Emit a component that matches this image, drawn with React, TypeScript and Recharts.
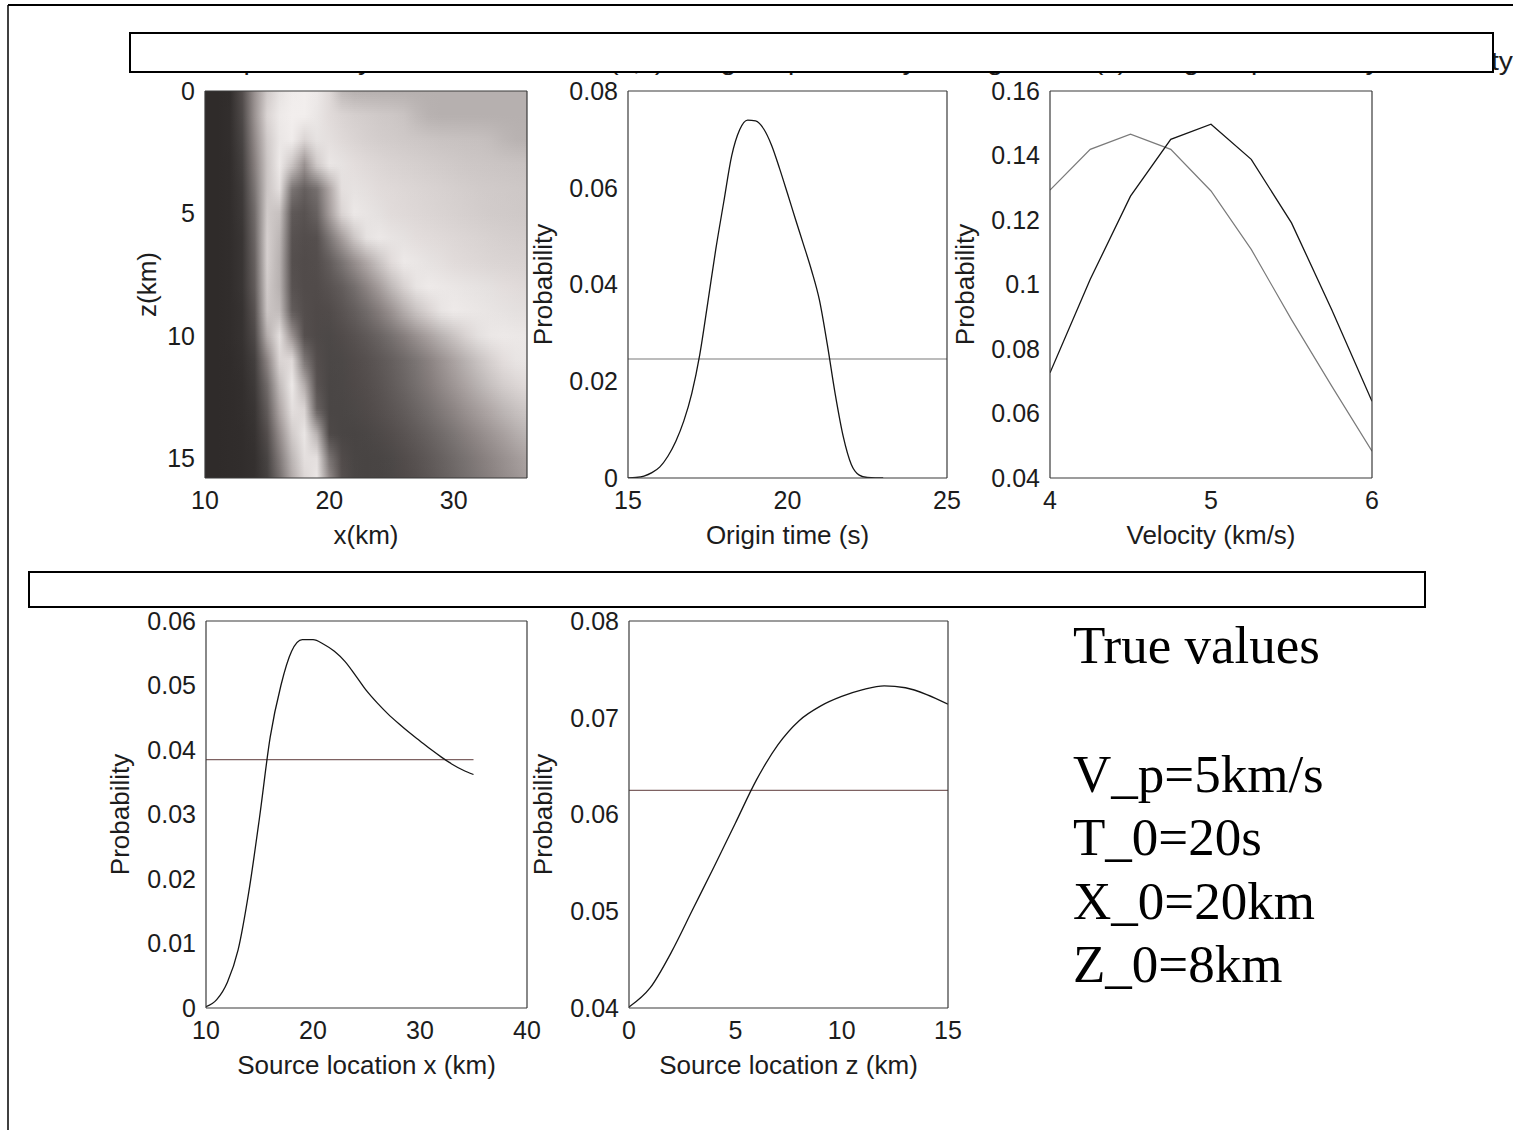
import React from 'react';
import { LineChart, Line, XAxis, YAxis, ReferenceArea } from 'recharts';

// ---------------- data ----------------
const originTime = [15, 15.25, 15.5, 15.75, 16, 16.25, 16.5, 16.75, 17, 17.25, 17.5, 17.75, 18, 18.25, 18.5, 18.75, 19, 19.25, 19.5, 19.75, 20, 20.25, 20.5, 20.75, 21, 21.25, 21.5, 21.75, 22, 22.25, 22.5, 22.75, 23];
const originProb = [0, 0.0001, 0.0004, 0.0011, 0.0023, 0.0045, 0.0076, 0.0118, 0.0175, 0.0255, 0.0362, 0.0472, 0.057, 0.0666, 0.072, 0.074, 0.0738, 0.0722, 0.0688, 0.064, 0.0588, 0.0535, 0.0483, 0.043, 0.0368, 0.0275, 0.0172, 0.0085, 0.0028, 0.0006, 0.0001, 0, 0];
const originPriorX = [15, 25];
const originPrior = 0.0246;

const velocity = [4, 4.25, 4.5, 4.75, 5, 5.25, 5.5, 5.75, 6];
const velPostDark = [0.0726, 0.1016, 0.1274, 0.145, 0.1497, 0.1388, 0.1191, 0.0922, 0.0638];
const velPostGray = [0.1293, 0.1419, 0.1466, 0.1419, 0.129, 0.1109, 0.0891, 0.0685, 0.0483];

const sourceX = [10, 11, 12, 13, 14, 15, 16, 17, 18, 19, 20, 21, 22, 23, 24, 25, 26, 27, 28, 29, 30, 31, 32, 33, 34, 35];
const sourceXProb = [0.0002, 0.0013, 0.004, 0.009, 0.018, 0.0295, 0.042, 0.05, 0.0553, 0.0571, 0.0571, 0.0564, 0.0553, 0.0537, 0.0515, 0.0492, 0.0473, 0.0456, 0.0441, 0.0427, 0.0414, 0.0401, 0.0389, 0.0378, 0.0369, 0.0362];
const sourceXPriorX = [10, 35];
const sourceXPrior = 0.0385;

const sourceZ = [0, 1, 2, 3, 4, 5, 6, 7, 8, 9, 10, 11, 12, 13, 14, 15];
const sourceZProb = [0.0401, 0.0421, 0.0458, 0.0502, 0.0546, 0.0591, 0.0636, 0.0672, 0.0697, 0.0712, 0.0722, 0.0729, 0.0733, 0.0731, 0.0724, 0.0714];
const sourceZPriorX = [0, 15];
const sourceZPrior = 0.0625;

// joint (x,z) map: grey level per grid node, columns = heatX, rows = heatZ
const heatX = [10, 11, 12, 13, 14, 15, 16, 17, 18, 19, 20, 21, 22, 23, 24, 25, 26, 27, 28, 29, 30, 31, 32, 33, 34, 35, 36];
const heatZ = [0, 1, 2, 3, 4, 5, 6, 7, 8, 9, 10, 11, 12, 13, 14, 15, 16];
const heatRows = [
  [45, 45, 47, 80, 150, 205, 228, 238, 240, 235, 220, 188, 180, 179, 179, 179, 179, 179, 179, 179, 179, 179, 179, 179, 179, 179, 179],
  [45, 45, 48, 75, 150, 215, 235, 240, 240, 232, 222, 215, 210, 207, 204, 202, 198, 188, 181, 179, 179, 179, 179, 179, 179, 179, 179],
  [45, 45, 48, 70, 140, 205, 232, 238, 215, 228, 225, 220, 215, 211, 208, 206, 204, 202, 200, 198, 197, 196, 195, 192, 186, 182, 181],
  [45, 45, 47, 65, 130, 200, 235, 200, 150, 205, 232, 228, 224, 220, 217, 214, 212, 210, 208, 206, 204, 202, 201, 200, 199, 198, 197],
  [45, 45, 47, 60, 120, 200, 225, 120, 98, 115, 170, 225, 228, 225, 222, 220, 218, 216, 214, 212, 210, 208, 206, 205, 204, 203, 202],
  [45, 45, 47, 58, 110, 205, 195, 92, 85, 100, 160, 215, 234, 230, 226, 222, 220, 218, 216, 214, 212, 210, 208, 206, 205, 204, 203],
  [45, 45, 47, 55, 105, 210, 185, 85, 80, 82, 120, 160, 200, 228, 234, 230, 227, 224, 222, 220, 218, 216, 214, 212, 210, 209, 208],
  [45, 45, 47, 55, 100, 210, 180, 82, 78, 80, 95, 118, 145, 172, 198, 222, 235, 232, 228, 225, 222, 220, 218, 216, 215, 214, 213],
  [45, 45, 47, 55, 95, 205, 180, 85, 78, 78, 85, 95, 112, 135, 160, 188, 212, 230, 236, 234, 232, 230, 228, 226, 224, 222, 220],
  [45, 45, 47, 52, 85, 200, 190, 95, 80, 76, 78, 86, 96, 110, 128, 150, 175, 198, 215, 230, 236, 234, 232, 230, 228, 226, 225],
  [45, 45, 47, 52, 75, 175, 225, 150, 82, 75, 74, 78, 84, 92, 102, 115, 130, 148, 165, 182, 198, 214, 226, 233, 235, 234, 233],
  [45, 45, 46, 50, 65, 135, 215, 220, 120, 80, 73, 74, 78, 83, 90, 98, 108, 120, 134, 150, 166, 182, 198, 212, 224, 230, 232],
  [45, 45, 46, 48, 60, 110, 190, 235, 175, 85, 72, 73, 76, 80, 86, 94, 103, 114, 126, 140, 154, 168, 182, 196, 208, 216, 222],
  [45, 45, 46, 48, 55, 95, 170, 225, 215, 100, 72, 72, 74, 77, 82, 88, 95, 104, 114, 125, 137, 150, 162, 174, 186, 196, 204],
  [45, 45, 46, 47, 52, 80, 145, 205, 232, 180, 75, 71, 70, 72, 75, 80, 86, 93, 101, 110, 120, 131, 142, 153, 164, 175, 185],
  [45, 45, 46, 47, 50, 70, 125, 185, 225, 225, 118, 78, 71, 70, 71, 74, 79, 85, 92, 100, 109, 118, 128, 138, 148, 158, 168],
  [45, 45, 46, 47, 50, 65, 110, 170, 215, 235, 148, 84, 72, 70, 70, 72, 76, 81, 88, 96, 104, 113, 122, 131, 141, 150, 160],
];

const titleText = 'Joint probability of source location (x,z)     Marginal probability of origin time (s)     Marginal probability of velocity';
const trueHeading = 'True values';
const trueValues = ['V_p=5km/s', 'T_0=20s', 'X_0=20km', 'Z_0=8km'];

// ---------------- styling / layout ----------------
const SANS = '"Liberation Sans", Arial, Helvetica, sans-serif';
const SERIF = '"Liberation Serif", "Times New Roman", Times, serif';
const BOX = '#3a3a3a';
const TXT = '#1c1c1c';
const TICK_FONT = 25;
const LABEL_FONT = 26;
const L = 100, T = 20, R = 40, B = 80;
const SUB_STRIPS = 12;

type PanelCfg = {
  left: number; top: number; w: number; h: number;
  xDomain: [number, number]; xTicks: number[];
  yDomain: [number, number]; yTicks: number[];
  reversed?: boolean; xLabel: string; yLabel: string; yLabelGap: number;
};

const pts = (xs: number[], ys: number[]) => xs.map((x, i) => ({ x, y: ys[i] }));
const flat = (xs: number[], v: number) => xs.map((x) => ({ x, y: v }));

// warm grey colour scale
function grey(g: number) {
  const c = (v: number) => Math.max(0, Math.min(255, Math.round(v)));
  const t = Math.max(0, 1 - Math.abs(g - 150) / 150);
  return `rgb(${c(g + 1 + 3 * t)},${c(g - 1 - 3 * t)},${c(g - 2 - 3 * t)})`;
}

function frameAxes(c: PanelCfg) {
  const tickStyle = { fontSize: TICK_FONT, fill: TXT, fontFamily: SANS };
  const line = { stroke: BOX, strokeWidth: 1.2 };
  const tl = { stroke: BOX, strokeWidth: 1.2 };
  const xl = L + c.w / 2;
  const yl = T + c.h + 66;
  const yx = L - c.yLabelGap;
  const yy = T + c.h / 2;
  const xLab = () => (
    <text x={xl} y={yl} textAnchor="middle" fontSize={LABEL_FONT} fontFamily={SANS} fill={TXT}>{c.xLabel}</text>
  );
  const yLab = () => (
    <text x={yx} y={yy} transform={`rotate(-90 ${yx} ${yy})`} textAnchor="middle" dominantBaseline="central" fontSize={LABEL_FONT} fontFamily={SANS} fill={TXT}>{c.yLabel}</text>
  );
  return [
    <XAxis key="xb" xAxisId="b" dataKey="x" type="number" allowDataOverflow interval={0} domain={c.xDomain} ticks={c.xTicks}
      orientation="bottom" height={B} tickSize={0} tickMargin={13} tickLine={false} axisLine={line} tick={tickStyle}
      label={{ content: xLab }} />,
    <XAxis key="xbm" xAxisId="bm" dataKey="x" type="number" allowDataOverflow interval={0} domain={c.xDomain} ticks={c.xTicks}
      orientation="bottom" mirror height={1} tick={false} tickSize={7} tickLine={tl} axisLine={false} />,
    <XAxis key="xt" xAxisId="t" dataKey="x" type="number" allowDataOverflow interval={0} domain={c.xDomain} ticks={c.xTicks}
      orientation="top" mirror height={1} tick={false} tickSize={7} tickLine={tl} axisLine={line} />,
    <YAxis key="yl" yAxisId="l" type="number" allowDataOverflow interval={0} domain={c.yDomain} ticks={c.yTicks} reversed={!!c.reversed}
      orientation="left" width={L} tickSize={0} tickMargin={10} tickLine={false} axisLine={line} tick={tickStyle}
      label={{ content: yLab }} />,
    <YAxis key="ylm" yAxisId="lm" type="number" allowDataOverflow interval={0} domain={c.yDomain} ticks={c.yTicks} reversed={!!c.reversed}
      orientation="left" mirror width={1} tick={false} tickSize={7} tickLine={tl} axisLine={false} />,
    <YAxis key="yr" yAxisId="r" type="number" allowDataOverflow interval={0} domain={c.yDomain} ticks={c.yTicks} reversed={!!c.reversed}
      orientation="right" mirror width={1} tick={false} tickSize={7} tickLine={tl} axisLine={line} />,
  ];
}

function Panel({ cfg, children }: { cfg: PanelCfg; children: React.ReactNode }) {
  return (
    <div style={{ position: 'absolute', left: cfg.left - L, top: cfg.top - T }}>
      <LineChart width={cfg.w + L + R} height={cfg.h + T + B} margin={{ top: T, right: R, bottom: 0, left: 0 }}>
        {children}
      </LineChart>
    </div>
  );
}

const heatCfg: PanelCfg = { left: 205, top: 91, w: 322, h: 387, xDomain: [10, 35.9], xTicks: [10, 20, 30], yDomain: [0, 15.8], yTicks: [0, 5, 10, 15], reversed: true, xLabel: 'x(km)', yLabel: 'z(km)', yLabelGap: 58 };
const originCfg: PanelCfg = { left: 628, top: 91, w: 319, h: 387, xDomain: [15, 25], xTicks: [15, 20, 25], yDomain: [0, 0.08], yTicks: [0, 0.02, 0.04, 0.06, 0.08], xLabel: 'Origin time (s)', yLabel: 'Probability', yLabelGap: 85 };
const velCfg: PanelCfg = { left: 1050, top: 91, w: 322, h: 387, xDomain: [4, 6], xTicks: [4, 5, 6], yDomain: [0.04, 0.16], yTicks: [0.04, 0.06, 0.08, 0.1, 0.12, 0.14, 0.16], xLabel: 'Velocity (km/s)', yLabel: 'Probability', yLabelGap: 85 };
const srcXCfg: PanelCfg = { left: 206, top: 621, w: 321, h: 387, xDomain: [10, 40], xTicks: [10, 20, 30, 40], yDomain: [0, 0.06], yTicks: [0, 0.01, 0.02, 0.03, 0.04, 0.05, 0.06], xLabel: 'Source location x (km)', yLabel: 'Probability', yLabelGap: 86 };
const srcZCfg: PanelCfg = { left: 629, top: 621, w: 319, h: 387, xDomain: [0, 15], xTicks: [0, 5, 10, 15], yDomain: [0.04, 0.08], yTicks: [0.04, 0.05, 0.06, 0.07, 0.08], xLabel: 'Source location z (km)', yLabel: 'Probability', yLabelGap: 86 };

const CURVE = '#151515';
const PRIOR_GRAY = '#7a7a7a';
const PRIOR_BROWN = '#7e6262';

// each band between grid rows a and b: row a underneath, row b blended on top with rising opacity
function BandShape({ p, a, b }: { p: any; a: number; b: number }) {
  const strips: React.ReactNode[] = [];
  const sh = p.height / SUB_STRIPS;
  for (let k = 0; k < SUB_STRIPS; k++) {
    strips.push(
      <rect key={k} x={p.x} y={p.y + k * sh} width={p.width} height={sh} fill={`url(#hm-row-${b})`}
        fillOpacity={(k + 0.5) / SUB_STRIPS} shapeRendering="crispEdges" />
    );
  }
  return (
    <g clipPath={p.clipPath}>
      <rect x={p.x} y={p.y} width={p.width} height={p.height} fill={`url(#hm-row-${a})`} shapeRendering="crispEdges" />
      {strips}
    </g>
  );
}

function heatBands() {
  const out: React.ReactNode[] = [];
  for (let i = 0; i < heatZ.length - 1; i++) {
    const a = i;
    const b = i + 1;
    out.push(
      <ReferenceArea key={`band${i}`} xAxisId="b" yAxisId="l" x1={heatX[0]} x2={heatX[heatX.length - 1]} y1={heatZ[a]} y2={heatZ[b]}
        ifOverflow="hidden"
        shape={(p: any) => <BandShape p={p} a={a} b={b} />} />
    );
  }
  return out;
}

export default function App() {
  const span = heatX[heatX.length - 1] - heatX[0];
  return (
    <div style={{ position: 'fixed', left: 0, top: 0, width: 1513, height: 1130, overflow: 'hidden', background: '#fff' }}>
      <svg width={1} height={1} style={{ position: 'absolute', left: 0, top: 0 }}>
        <defs>
          {heatRows.map((row, i) => (
            <linearGradient key={i} id={`hm-row-${i}`} x1="0" y1="0" x2="1" y2="0">
              {row.map((g, j) => (
                <stop key={j} offset={(heatX[j] - heatX[0]) / span} stopColor={grey(g)} />
              ))}
            </linearGradient>
          ))}
        </defs>
      </svg>

      <Panel cfg={heatCfg}>
        {heatBands()}
        {frameAxes(heatCfg)}
      </Panel>

      <Panel cfg={originCfg}>
        {frameAxes(originCfg)}
        <Line xAxisId="b" yAxisId="l" data={flat(originPriorX, originPrior)} dataKey="y" type="linear" stroke={PRIOR_GRAY} strokeWidth={1.2} dot={false} isAnimationActive={false} />
        <Line xAxisId="b" yAxisId="l" data={pts(originTime, originProb)} dataKey="y" type="monotone" stroke={CURVE} strokeWidth={1.3} dot={false} isAnimationActive={false} />
      </Panel>

      <Panel cfg={velCfg}>
        {frameAxes(velCfg)}
        <Line xAxisId="b" yAxisId="l" data={pts(velocity, velPostGray)} dataKey="y" type="linear" stroke={PRIOR_GRAY} strokeWidth={1.2} dot={false} isAnimationActive={false} />
        <Line xAxisId="b" yAxisId="l" data={pts(velocity, velPostDark)} dataKey="y" type="linear" stroke={CURVE} strokeWidth={1.3} dot={false} isAnimationActive={false} />
      </Panel>

      <Panel cfg={srcXCfg}>
        {frameAxes(srcXCfg)}
        <Line xAxisId="b" yAxisId="l" data={flat(sourceXPriorX, sourceXPrior)} dataKey="y" type="linear" stroke={PRIOR_BROWN} strokeWidth={1.2} dot={false} isAnimationActive={false} />
        <Line xAxisId="b" yAxisId="l" data={pts(sourceX, sourceXProb)} dataKey="y" type="monotone" stroke={CURVE} strokeWidth={1.3} dot={false} isAnimationActive={false} />
      </Panel>

      <Panel cfg={srcZCfg}>
        {frameAxes(srcZCfg)}
        <Line xAxisId="b" yAxisId="l" data={flat(sourceZPriorX, sourceZPrior)} dataKey="y" type="linear" stroke={PRIOR_BROWN} strokeWidth={1.2} dot={false} isAnimationActive={false} />
        <Line xAxisId="b" yAxisId="l" data={pts(sourceZ, sourceZProb)} dataKey="y" type="monotone" stroke={CURVE} strokeWidth={1.3} dot={false} isAnimationActive={false} />
      </Panel>

      <svg width={1513} height={1130} style={{ position: 'absolute', left: 0, top: 0, pointerEvents: 'none' }}>
        <line x1={8} y1={5} x2={1513} y2={5} stroke="#000" strokeWidth={2} />
        <line x1={8} y1={5} x2={8} y2={1130} stroke="#000" strokeWidth={1.5} />
        <text x={176} y={70} textLength={1337} lengthAdjust="spacingAndGlyphs" fontSize={26} fontFamily={SANS} fill={TXT}>{titleText}</text>
        <rect x={130} y={33} width={1363} height={39} fill="#fff" stroke="#000" strokeWidth={2} />
        <rect x={29} y={572} width={1396} height={35} fill="#fff" stroke="#000" strokeWidth={2} />
        <text x={1073} y={663} fontSize={53} fontFamily={SERIF} fill="#000">{trueHeading}</text>
        {trueValues.map((t, i) => (
          <text key={t} x={1073} y={792 + i * 63.3} fontSize={53} fontFamily={SERIF} fill="#000">{t}</text>
        ))}
      </svg>
    </div>
  );
}
